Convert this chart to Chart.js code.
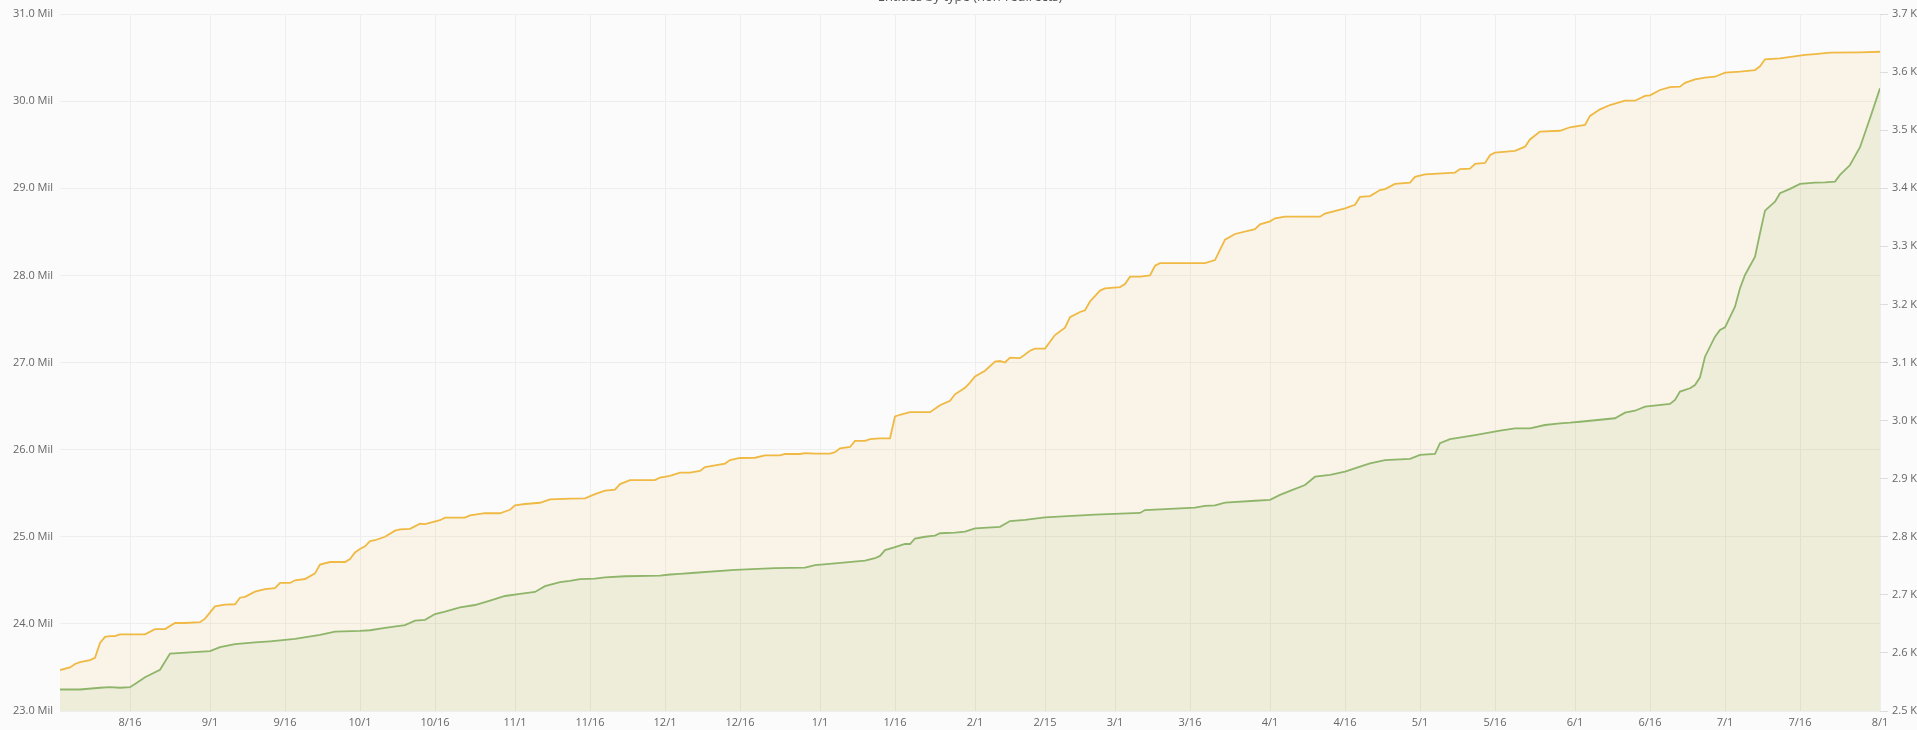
<!DOCTYPE html>
<html>
<head>
<meta charset="utf-8">
<title>Entities by type (non-redirects)</title>
<script src="https://cdn.jsdelivr.net/npm/chart.js@4.4.1/dist/chart.umd.min.js"></script>
<style>
    html, body { margin: 0; padding: 0; background: #fbfbfb; overflow: hidden; }
    #wrap { width: 1917px; height: 730px; position: relative; }
</style>
</head>
<body>
<div id="wrap"><canvas id="entitiesChart" width="1917" height="730"></canvas></div>
<script>
'use strict';

// x = day number counted from 8/1 (8/2 = 1 ... next 8/1 = 365)
const tickDays   = [15, 31, 46, 61, 76, 92, 107, 122, 137, 153, 168, 184, 198, 212, 227, 243, 258, 273, 288, 304, 319, 334, 349, 365];
const tickLabels = ['8/16', '9/1', '9/16', '10/1', '10/16', '11/1', '11/16', '12/1', '12/16', '1/1', '1/16', '2/1',
                    '2/15', '3/1', '3/16', '4/1', '4/16', '5/1', '5/16', '6/1', '6/16', '7/1', '7/16', '8/1'];

// Left axis series (millions)
const itemDays = [1, 3, 4, 5, 7, 8, 9, 10, 11, 12, 13, 18, 20, 22, 24, 26, 29, 30, 32, 34, 36, 37, 38, 40, 42, 44, 45, 47, 48, 50,
    52, 53, 55, 58, 59, 60, 61, 62, 63, 64, 66, 68, 69, 71, 73, 74, 77, 78, 82, 83, 86, 89, 90, 91, 92, 94, 97, 99, 103, 106,
    108, 110, 112, 113, 115, 120, 121, 123, 125, 127, 129, 130, 132, 134, 135, 137, 140, 142, 145, 146, 149, 150, 152, 155, 156, 157, 159, 160, 162, 163,
    165, 167, 168, 169, 171, 175, 177, 179, 180, 182, 183, 184, 186, 188, 189, 190, 191, 193, 195, 196, 198, 200, 202, 203, 205, 206, 207, 209, 210, 213,
    214, 215, 217, 219, 220, 221, 230, 232, 234, 236, 240, 241, 243, 244, 246, 253, 254, 258, 260, 261, 263, 265, 266, 268, 271, 272, 274, 280, 281, 283,
    284, 286, 287, 288, 292, 294, 295, 297, 301, 303, 306, 307, 309, 311, 314, 316, 318, 319, 321, 323, 325, 326, 328, 330, 332, 334, 337, 340, 341, 342,
    345, 350, 352, 355, 361, 365];
const itemVals = [23.47, 23.50, 23.54, 23.56, 23.585, 23.61, 23.78, 23.85, 23.86, 23.86, 23.88, 23.88, 23.94, 23.94, 24.01, 24.01, 24.02, 24.06, 24.20, 24.22,
    24.225, 24.30, 24.31, 24.37, 24.40, 24.41, 24.47, 24.47, 24.50, 24.515, 24.58, 24.68, 24.71, 24.71, 24.745, 24.82, 24.86, 24.89, 24.95, 24.96,
    25.00, 25.07, 25.085, 25.09, 25.15, 25.146, 25.19, 25.22, 25.22, 25.245, 25.27, 25.27, 25.29, 25.31, 25.36, 25.376, 25.39, 25.43, 25.437, 25.44,
    25.49, 25.53, 25.54, 25.605, 25.65, 25.65, 25.68, 25.70, 25.735, 25.735, 25.755, 25.80, 25.82, 25.84, 25.88, 25.904, 25.907, 25.935, 25.935, 25.95,
    25.95, 25.96, 25.955, 25.955, 25.97, 26.015, 26.03, 26.10, 26.10, 26.12, 26.13, 26.13, 26.38, 26.40, 26.43, 26.43, 26.51, 26.56, 26.635, 26.71,
    26.77, 26.84, 26.905, 27.01, 27.017, 27.00, 27.055, 27.05, 27.135, 27.16, 27.16, 27.315, 27.40, 27.52, 27.58, 27.60, 27.70, 27.825, 27.85, 27.865,
    27.90, 27.985, 27.985, 28.00, 28.11, 28.14, 28.14, 28.175, 28.41, 28.475, 28.53, 28.585, 28.62, 28.655, 28.674, 28.674, 28.71, 28.77, 28.81, 28.90,
    28.91, 28.98, 28.99, 29.05, 29.064, 29.13, 29.16, 29.18, 29.22, 29.225, 29.28, 29.29, 29.38, 29.41, 29.43, 29.477, 29.56, 29.65, 29.66, 29.70,
    29.726, 29.83, 29.906, 29.955, 30.005, 30.005, 30.06, 30.067, 30.128, 30.16, 30.166, 30.21, 30.25, 30.27, 30.28, 30.326, 30.338, 30.357, 30.40, 30.48,
    30.49, 30.53, 30.54, 30.556, 30.56, 30.567];

// Right axis series (thousands)
const otherDays = [1, 5, 9, 11, 13, 15, 16, 18, 21, 23, 27, 31, 33, 36, 40, 43, 48, 53, 56, 61, 63, 66, 70, 72, 74, 76, 78, 81, 84, 87,
    90, 93, 96, 98, 101, 103, 105, 108, 110, 114, 121, 123, 125, 128, 136, 144, 150, 152, 156, 162, 164, 165, 166, 168, 170, 171, 172, 174, 176, 177,
    180, 182, 184, 189, 191, 194, 198, 208, 217, 218, 228, 230, 232, 234, 240, 243, 245, 247, 250, 252, 255, 258, 261, 263, 266, 271, 273, 276, 277, 279,
    284, 289, 292, 295, 298, 301, 303, 305, 312, 314, 316, 318, 323, 324, 325, 327, 328, 329, 330, 332, 333, 334, 336, 337, 338, 340, 341, 342, 344, 345,
    347, 349, 352, 354, 356, 357, 359, 361, 363, 365];
const otherVals = [2.537, 2.537, 2.540, 2.541, 2.540, 2.541, 2.5465, 2.558, 2.571, 2.599, 2.601, 2.603, 2.610, 2.615, 2.618, 2.620, 2.624, 2.631, 2.6365, 2.638,
    2.639, 2.643, 2.648, 2.6555, 2.657, 2.667, 2.671, 2.6785, 2.6825, 2.690, 2.698, 2.7015, 2.705, 2.715, 2.722, 2.724, 2.727, 2.728, 2.730, 2.732,
    2.733, 2.735, 2.736, 2.738, 2.743, 2.746, 2.747, 2.751, 2.754, 2.759, 2.763, 2.767, 2.777, 2.782, 2.7875, 2.7875, 2.797, 2.800, 2.802, 2.806,
    2.807, 2.809, 2.8145, 2.817, 2.827, 2.829, 2.8335, 2.838, 2.841, 2.846, 2.850, 2.853, 2.854, 2.8586, 2.862, 2.8635, 2.872, 2.879, 2.889, 2.9034,
    2.9064, 2.912, 2.9206, 2.9265, 2.932, 2.934, 2.941, 2.9425, 2.961, 2.968, 2.975, 2.9826, 2.9867, 2.9867, 2.9924, 2.9953, 2.9964, 2.998, 3.004, 3.0136,
    3.017, 3.024, 3.0286, 3.0355, 3.050, 3.0556, 3.0613, 3.0745, 3.110, 3.1445, 3.156, 3.1606, 3.196, 3.2278, 3.2507, 3.282, 3.3225, 3.3614, 3.377, 3.3914,
    3.399, 3.4074, 3.4096, 3.410, 3.4114, 3.423, 3.440, 3.4706, 3.5205, 3.572];

const TITLE = 'Entities by type (non-redirects)';

// ============================================================
// Chart
// ============================================================
document.addEventListener('DOMContentLoaded', () => {
    Chart.defaults.font.family = "'Open Sans', sans-serif";
    Chart.defaults.font.size   = 11;
    Chart.defaults.color       = '#666';

    const toPoints = (days, vals) => days.map((d, i) => ({ x: d, y: vals[i] }));

    // Title sits mostly above the top edge in the reference
    const cutTitle = {
        id: 'cutTitle',
        afterDraw(chart) {
            const { ctx, chartArea } = chart;
            ctx.save();
            ctx.font = "13px 'Open Sans', sans-serif";
            ctx.fillStyle = '#555';
            ctx.textAlign = 'center';
            ctx.textBaseline = 'middle';
            ctx.fillText(TITLE, (chartArea.left + chartArea.right) / 2, -3);
            ctx.restore();
        }
    };

    new Chart(document.getElementById('entitiesChart'), {
        type: 'line',
        data: {
            datasets: [{
                label: 'Other',
                data: toPoints(otherDays, otherVals),
                yAxisID: 'yRight',
                borderColor: '#8fb56b',
                backgroundColor: 'rgba(141,181,106,0.12)',
                borderWidth: 1.8,
                pointRadius: 0,
                fill: 'start',
                tension: 0,
            }, {
                label: 'Items',
                data: toPoints(itemDays, itemVals),
                yAxisID: 'yLeft',
                borderColor: '#efb943',
                backgroundColor: 'rgba(240,185,60,0.1)',
                borderWidth: 1.8,
                pointRadius: 0,
                fill: 'start',
                tension: 0,
            }]
        },
        options: {
            responsive: false,
            animation: false,
            layout: { padding: { top: 14, bottom: 0, left: 0, right: 0 } },
            plugins: { legend: { display: false }, tooltip: { enabled: false } },
            scales: {
                x: {
                    type: 'linear',
                    min: 1,
                    max: 365,
                    afterBuildTicks: scale => { scale.ticks = tickDays.map(v => ({ value: v })); },
                    afterFit: scale => { scale.height = 19; },
                    ticks: {
                        autoSkip: false,
                        maxRotation: 0,
                        padding: 5,
                        callback: v => tickLabels[tickDays.indexOf(v)],
                    },
                    grid: { color: '#eeeeee', drawTicks: false },
                    border: { display: false },
                },
                yLeft: {
                    position: 'left',
                    min: 23,
                    max: 31,
                    afterFit: scale => { scale.width = 60; },
                    ticks: { stepSize: 1, padding: 7, callback: v => v.toFixed(1) + ' Mil' },
                    grid: { color: '#eeeeee', drawTicks: false },
                    border: { display: false },
                },
                yRight: {
                    position: 'right',
                    min: 2.5,
                    max: 3.7,
                    afterFit: scale => { scale.width = 37; },
                    ticks: { stepSize: 0.1, padding: 4, callback: v => v.toFixed(1) + ' K' },
                    grid: { drawOnChartArea: false, color: '#dddddd', tickLength: 8 },
                    border: { display: false },
                }
            }
        },
        plugins: [cutTitle]
    });
});
</script>
</body>
</html>
